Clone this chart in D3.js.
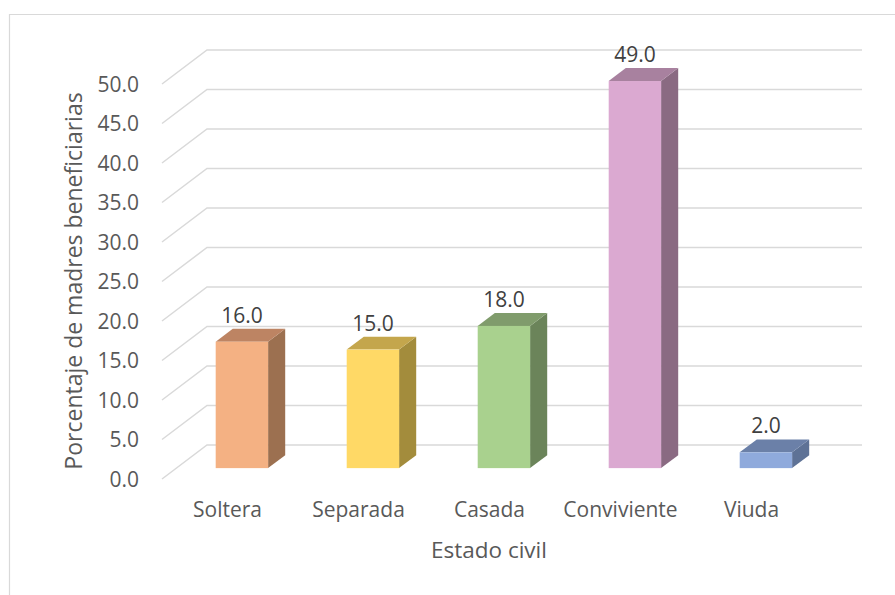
<!DOCTYPE html>
<html>
<head>
<meta charset="utf-8">
<script src="https://cdn.jsdelivr.net/npm/d3@7"></script>
<style>
  body { margin: 0; background: #fff; }
  text { font-family: "Open Sans", sans-serif; }
</style>
</head>
<body>
<script>
// datos del grafico
var categorias = ["Soltera", "Separada", "Casada", "Conviviente", "Viuda"];
var valores = [16.0, 15.0, 18.0, 49.0, 2.0];
var ticks = [0, 5, 10, 15, 20, 25, 30, 35, 40, 45, 50];
var colorFrente = ["#F4B183", "#FFD966", "#A9D18E", "#DBA9D1", "#8FAADC"];
var colorArriba = ["#BD8463", "#C4A64C", "#809C6C", "#A8819F", "#6B80A8"];
var colorLado = ["#9C7050", "#A38C3C", "#6B845A", "#8A6A82", "#5E7296"];

var W = 895, H = 595;

// profundidad oblicua: vector de la pared frontal a la trasera
var dx = 45, dy = -34;
var d0 = 0.32, d1 = 0.70; // profundidad de las barras

var x = d3.scaleBand()
    .domain(categorias)
    .range([162, 817])
    .paddingInner(0.6)
    .paddingOuter(0.3);

var y = d3.scaleLinear()
    .domain([0, 50])
    .range([479, 84]);

var svg = d3.select("body").append("svg")
    .attr("width", W)
    .attr("height", H);

// borde del area del grafico
svg.append("path")
    .attr("d", "M9.5," + H + "V14.5H" + W)
    .attr("fill", "none")
    .attr("stroke", "#D9D9D9")
    .attr("stroke-width", 1.2);

// lineas de cuadricula: pared lateral y pared trasera
svg.append("g")
    .selectAll("path")
    .data(ticks)
    .enter().append("path")
    .attr("d", function (d) {
        var yf = y(d);
        return "M162," + yf + "L" + (162 + dx) + "," + (yf + dy) + "H862";
    })
    .attr("fill", "none")
    .attr("stroke", "#D9D9D9")
    .attr("stroke-width", 1.5);

// etiquetas del eje y
svg.append("g")
    .selectAll("text")
    .data(ticks)
    .enter().append("text")
    .attr("x", 139)
    .attr("y", function (d) { return y(d); })
    .attr("dy", "0.36em")
    .attr("text-anchor", "end")
    .attr("font-size", 21)
    .attr("fill", "#595959")
    .text(function (d) { return d.toFixed(1); });

// barras 3D
var barras = svg.append("g")
    .selectAll("g")
    .data(valores)
    .enter().append("g");

function esquinas(d, i) {
    var x0 = x(categorias[i]) + d0 * dx,
        x1 = x0 + x.bandwidth(),
        yb = y(0) + d0 * dy,
        yt = y(d) + d0 * dy,
        ox = (d1 - d0) * dx,
        oy = (d1 - d0) * dy;
    return { x0: x0, x1: x1, yb: yb, yt: yt, ox: ox, oy: oy };
}

barras.append("path")
    .attr("d", function (d, i) {
        var c = esquinas(d, i);
        return "M" + c.x1 + "," + c.yb + "L" + (c.x1 + c.ox) + "," + (c.yb + c.oy) +
            "L" + (c.x1 + c.ox) + "," + (c.yt + c.oy) + "L" + c.x1 + "," + c.yt + "Z";
    })
    .attr("fill", function (d, i) { return colorLado[i]; });

barras.append("path")
    .attr("d", function (d, i) {
        var c = esquinas(d, i);
        return "M" + c.x0 + "," + c.yt + "L" + c.x1 + "," + c.yt +
            "L" + (c.x1 + c.ox) + "," + (c.yt + c.oy) + "L" + (c.x0 + c.ox) + "," + (c.yt + c.oy) + "Z";
    })
    .attr("fill", function (d, i) { return colorArriba[i]; });

barras.append("rect")
    .attr("x", function (d, i) { return esquinas(d, i).x0; })
    .attr("y", function (d, i) { return esquinas(d, i).yt; })
    .attr("width", x.bandwidth())
    .attr("height", function (d, i) { var c = esquinas(d, i); return c.yb - c.yt; })
    .attr("fill", function (d, i) { return colorFrente[i]; });

// etiquetas de datos
barras.append("text")
    .attr("x", function (d, i) { var c = esquinas(d, i); return (c.x0 + c.x1) / 2; })
    .attr("y", function (d, i) { var c = esquinas(d, i); return c.yt + c.oy - 6; })
    .attr("text-anchor", "middle")
    .attr("font-size", 21)
    .attr("fill", "#404040")
    .text(function (d) { return d.toFixed(1); });

// etiquetas de categorias
svg.append("g")
    .selectAll("text")
    .data(categorias)
    .enter().append("text")
    .attr("x", function (d) { return x(d) + x.bandwidth() / 2; })
    .attr("y", 517)
    .attr("text-anchor", "middle")
    .attr("font-size", 21)
    .attr("fill", "#595959")
    .text(function (d) { return d; });

// titulos de los ejes
svg.append("text")
    .attr("x", 489)
    .attr("y", 558)
    .attr("text-anchor", "middle")
    .attr("font-size", 22.5)
    .attr("fill", "#595959")
    .text("Estado civil");

svg.append("text")
    .attr("transform", "translate(82,281) rotate(-90)")
    .attr("text-anchor", "middle")
    .attr("font-size", 23)
    .attr("fill", "#595959")
    .text("Porcentaje de madres beneficiarias");
</script>
</body>
</html>
